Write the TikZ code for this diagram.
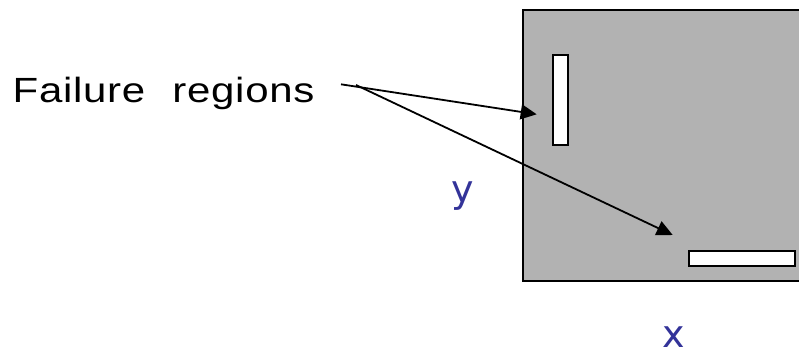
\documentclass[tikz,border=0pt]{standalone}
\usepackage{fontspec}
\setmainfont{Liberation Sans}
\newfontfamily\lblfont[FakeStretch=1.2, LetterSpace=2, WordSpace=2.2]{Liberation Sans}
\newfontfamily\axfont{DejaVu Sans}
\usetikzlibrary{arrows.meta,positioning}
\definecolor{planegray}{HTML}{B2B2B2}
\definecolor{axblue}{HTML}{333399}

\begin{document}
\begin{tikzpicture}[x=1pt, y=-1pt, >={Triangle[length=16pt,width=15pt]},
  inputbox/.style={draw, line width=2pt, fill=planegray, inner sep=0pt},
  region/.style={draw, line width=2pt, fill=white, inner sep=0pt},
  axislbl/.style={text=axblue, font=\axfont\fontsize{38}{46}\selectfont, inner sep=0pt, anchor=base},
  link/.style={->, line width=1.8pt}]
  \useasboundingbox (0,0) rectangle (799,354);
  \node[inputbox, minimum width=360pt, minimum height=271pt] (sq) at (703,145) {};
  \node[region, minimum width=15pt, minimum height=90pt] (regA) at (560,99.5) {};
  \node[region, minimum width=106pt, minimum height=15pt] (regB) at (741.5,258) {};
  \node[font=\lblfont\fontsize{35}{42}\selectfont, inner sep=0pt, anchor=base west] (lbl) at (12.5,102.3) {Failure regions};
  \node[axislbl] (ylbl) at (463,202) {y};
  \node[axislbl] (xlbl) at (674,347) {x};
  \coordinate (from) at (341,84.3);
  \coordinate (split) at (356,85);
  \coordinate (tipA) at (536.7,114.3);
  \coordinate (tipB) at (672.7,235);
  \draw[link] (from) -- (tipA);
  \draw[link] (split) -- (tipB);
\end{tikzpicture}
\end{document}
